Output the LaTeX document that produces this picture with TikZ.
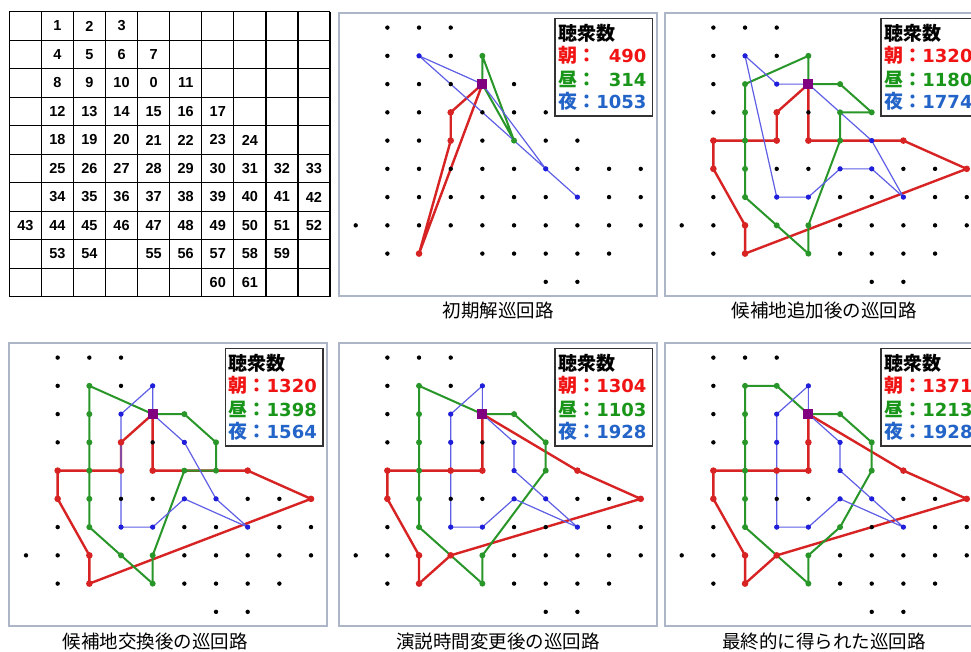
\documentclass[tikz,border=0pt]{standalone}
\usepackage{fontspec}
\newfontfamily\jp{Noto Sans CJK JP}
\newfontfamily\dvs{DejaVu Sans}
\newfontfamily\lsans{Liberation Sans}
\definecolor{rline}{RGB}{215,35,35}
\definecolor{gline}{RGB}{40,150,40}
\definecolor{bline}{RGB}{95,95,230}
\definecolor{bdot}{RGB}{30,30,220}
\definecolor{rtext}{RGB}{240,20,20}
\definecolor{gtext}{RGB}{25,150,25}
\definecolor{btext}{RGB}{35,100,200}
\definecolor{purp}{RGB}{128,0,128}
\definecolor{framec}{RGB}{172,182,198}
\newcommand\gridpts{1/1/0,2/2/0,3/3/0,4/1/1,5/2/1,6/3/1,7/4/1,8/1/2,9/2/2,10/3/2,0/4/2,11/5/2,12/1/3,13/2/3,14/3/3,15/4/3,16/5/3,17/6/3,18/1/4,19/2/4,20/3/4,21/4/4,22/5/4,23/6/4,24/7/4,25/1/5,26/2/5,27/3/5,28/4/5,29/5/5,30/6/5,31/7/5,32/8/5,33/9/5,34/1/6,35/2/6,36/3/6,37/4/6,38/5/6,39/6/6,40/7/6,41/8/6,42/9/6,43/0/7,44/1/7,45/2/7,46/3/7,47/4/7,48/5/7,49/6/7,50/7/7,51/8/7,52/9/7,53/1/8,54/2/8,55/4/8,56/5/8,57/6/8,58/7/8,59/8/8,60/6/9,61/7/9}
\tikzset{
  rroute/.style={draw=rline,line width=2.4pt,line join=round},
  groute/.style={draw=gline,line width=2pt,line join=round},
  broute/.style={draw=bline,line width=1.2pt,line join=round},
  pframe/.style={draw=framec,line width=1.8pt,fill=white},
  legbox/.style={draw=black!80,line width=1.3pt,fill=white},
  tline/.style={draw=black,line width=1.3pt},
  tnum/.style={font=\lsans\bfseries\fontsize{14.5pt}{14.5pt}\selectfont,inner sep=0pt},
  capt/.style={font=\jp\fontsize{18.5pt}{18.5pt}\selectfont,inner sep=0pt},
  lhead/.style={font=\jp\bfseries\fontsize{19pt}{19pt}\selectfont,inner sep=0pt,anchor=base west},
  lnum/.style={font=\dvs\bfseries\fontsize{18pt}{18pt}\selectfont,inner sep=0pt,anchor=base east},
}
% panel: name, frame left, frame top
\newcommand\setpanel[3]{%
  \draw[pframe] (#2,#3) rectangle ++(318,283);
  \foreach \n/\c/\r in \gridpts {\coordinate (#1-\n) at ({#2+16.7+31.67*\c},{#3+14.3+28.25*\r});}
}
\newcommand\route[3]{\draw[#2] (#1-0) \foreach \v in {#3}{ -- (#1-\v)};}
\newcommand\blackdots[1]{\foreach \n/\c/\r in \gridpts {\fill[black] (#1-\n) circle (2.2pt);}}
\newcommand\pdots[4]{\foreach \v in {#4}{\fill[#2] (#1-\v) circle (#3);}}
\newcommand\depot[1]{\node[fill=purp,minimum size=10pt,inner sep=0pt] (#1-sq) at (#1-0) {};}
% legend: name, frame left, frame top, a, b, c
\newcommand\legendbox[6]{%
  \draw[legbox] ({#2+216},{#3+5}) rectangle ++(97.7,97.7);
  \node[lhead] (#1-lh) at ({#2+219},{#3+27}) {聴衆数};
  \node[lhead,text=rtext] (#1-la) at ({#2+219},{#3+49.4}) {朝：};
  \node[lhead,text=gtext] (#1-lb) at ({#2+219},{#3+72.7}) {昼：};
  \node[lhead,text=btext] (#1-lc) at ({#2+219},{#3+95.4}) {夜：};
  \node[lnum,text=rtext] (#1-na) at ({#2+307.7},{#3+49.4}) {#4};
  \node[lnum,text=gtext] (#1-nb) at ({#2+307.7},{#3+72.7}) {#5};
  \node[lnum,text=btext] (#1-nc) at ({#2+307.7},{#3+95.4}) {#6};
}
\begin{document}
\begin{tikzpicture}[x=1pt,y=-1pt]
\useasboundingbox (0,0) rectangle (971,651);
\clip (0,0) rectangle (971,651);
\fill[white] (0,0) rectangle (971,651);
% ---------- table ----------
\foreach \i in {0,...,10} {
  \draw[tline] ({9.3+32.07*\i},11.7) -- ({9.3+32.07*\i},296.7);
  \draw[tline] (9.3,{11.7+28.5*\i}) -- (330,{11.7+28.5*\i});
}
\foreach \n/\c/\r in \gridpts {
  \node[tnum] (t-\n) at ({9.3+32.07*(\c+0.5)},{11.7+28.5*(\r+0.5)}) {\n};
}
% ---------- panel 2 ----------
\setpanel{A}{339}{13.3}
\route{A}{rroute}{14,20,54,0}
\route{A}{groute}{7,22,0}
\route{A}{broute}{30,40,5,0}
\blackdots{A}
\pdots{A}{rline}{3.3pt}{14,20,54}
\pdots{A}{gline}{3pt}{7,22}
\pdots{A}{bdot}{2.6pt}{5,30,40}
\depot{A}
\legendbox{A}{339}{13.3}{490}{314}{1053}
\node[capt] (A-cap) at (498,310) {初期解巡回路};
% ---------- panel 3 ----------
\setpanel{B}{665}{13.3}
\route{B}{rroute}{14,20,18,25,45,54,33,24,21,0}
\route{B}{groute}{11,17,16,22,47,55,46,35,9,7,0}
\route{B}{broute}{10,5,36,37,29,30,40,23,0}
\blackdots{B}
\pdots{B}{rline}{3.3pt}{14,20,18,25,45,54,33,24,21}
\pdots{B}{gline}{3pt}{11,17,16,22,47,55,46,35,26,19,13,9,7}
\pdots{B}{bdot}{2.6pt}{10,5,36,37,29,30,40,23}
\depot{B}
\legendbox{B}{665}{13.3}{1320}{1180}{1774}
\node[capt] (B-cap) at (824,310) {候補地追加後の巡回路};
% ---------- panel 4 ----------
\setpanel{C}{9.3}{343.3}
\route{C}{rroute}{14,20,18,25,45,54,33,24,21,0}
\route{C}{groute}{11,17,23,22,47,55,46,35,5,0}
\route{C}{broute}{7,10,36,37,29,40,30,16,0}
\blackdots{C}
\pdots{C}{rline}{3.3pt}{14,20,18,25,45,54,33,24,21}
\pdots{C}{gline}{3pt}{11,17,23,22,47,55,46,35,26,19,13,9,5}
\pdots{C}{bdot}{2.6pt}{7,10,36,37,29,40,30,16}
\depot{C}
\legendbox{C}{9.3}{343.3}{1320}{1398}{1564}
\node[capt] (C-cap) at (155,641.5) {候補地交換後の巡回路};
% ---------- panel 5 ----------
\setpanel{D}{339}{343.3}
\route{D}{rroute}{21,18,25,45,54,46,33,24,0}
\route{D}{groute}{11,17,23,47,55,46,35,5,0}
\route{D}{broute}{7,10,36,37,29,40,30,22,16,0}
\blackdots{D}
\pdots{D}{gline}{3pt}{11,17,23,47,55,35,26,19,13,9,5}
\pdots{D}{rline}{3.3pt}{21,20,18,25,45,54,46,33,24}
\pdots{D}{bdot}{2.6pt}{7,10,14,36,37,29,40,30,22,16}
\depot{D}
\legendbox{D}{339}{343.3}{1304}{1103}{1928}
\node[capt] (D-cap) at (498,641.5) {演説時間変更後の巡回路};
% ---------- panel 6 ----------
\setpanel{E}{665}{343.3}
\route{E}{rroute}{21,18,25,45,54,46,33,24,0}
\route{E}{groute}{11,17,23,38,47,55,46,35,5,6,0}
\route{E}{broute}{7,10,36,37,29,40,30,22,16,0}
\blackdots{E}
\pdots{E}{gline}{3pt}{11,17,23,38,47,55,35,26,19,13,9,5,6}
\pdots{E}{rline}{3.3pt}{15,21,20,18,25,45,54,46,33,24}
\pdots{E}{bdot}{2.6pt}{7,10,14,36,37,29,40,30,22,16}
\depot{E}
\legendbox{E}{665}{343.3}{1371}{1213}{1928}
\node[capt] (E-cap) at (824,641.5) {最終的に得られた巡回路};
\end{tikzpicture}
\end{document}
